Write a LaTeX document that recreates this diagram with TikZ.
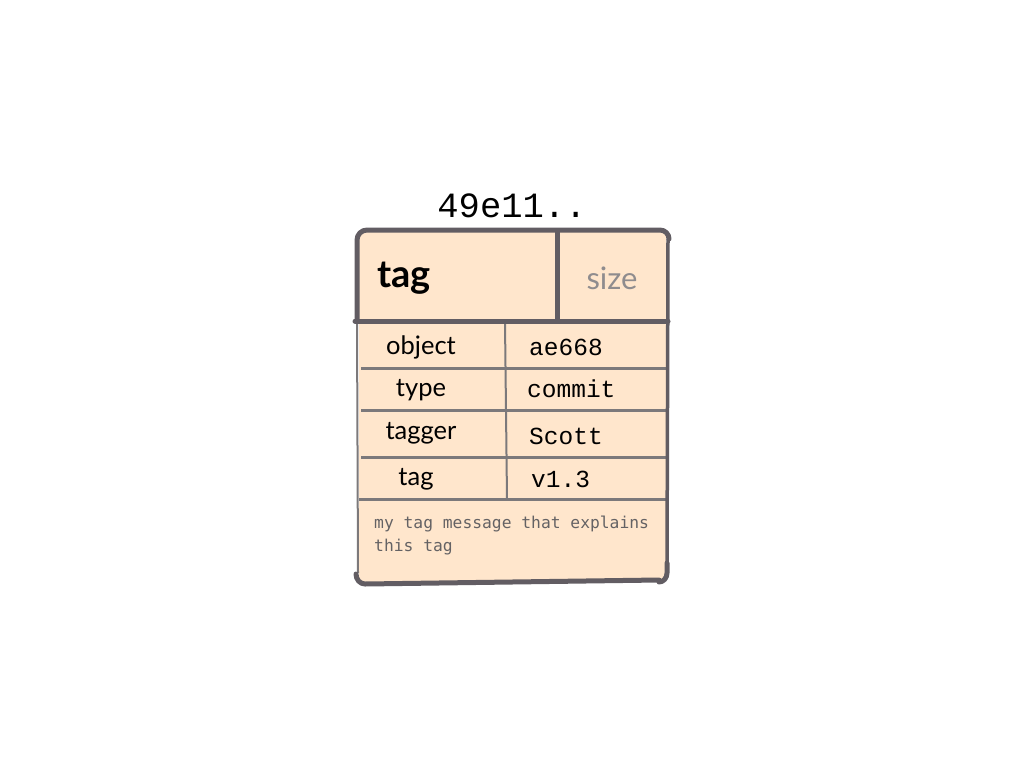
\documentclass[tikz,border=0pt]{standalone}
\usepackage{fontspec}
\setmainfont{Lato}
\setmonofont{Liberation Mono}
\newfontfamily\notefont{DejaVu Sans Mono}
\usetikzlibrary{calc}
\definecolor{tagfill}{HTML}{FFE6CC}
\definecolor{tagedge}{HTML}{625D63}
\definecolor{rowline}{HTML}{7C797B}
\definecolor{sizegray}{HTML}{8F8C8E}
\definecolor{notegray}{HTML}{646264}
\def\drawedge{\draw[color=tagedge, line width=5pt, line cap=round, line join=round]}
\def\drawrow{\draw[color=rowline, line width=3pt]}
\def\keynode{\node[font=\fontsize{25.5}{30}\selectfont]}
\def\valnode{\node[font=\ttfamily\fontsize{24.5}{28}\selectfont, anchor=west]}

\begin{document}
\begin{tikzpicture}[x=1pt,y=-1pt,inner sep=0pt]
\useasboundingbox (0,0) rectangle (1024,768);
\coordinate (nw) at (357,230); % top left of the tag box
\coordinate (ne) at (668,230);
\coordinate (se) at (668,583);
\coordinate (sw) at (357,583);

% ---------- paper of the box
\fill[tagfill] ($ (nw) + (2,2) $) -- ($ (ne) + (-2,2) $) -- ($ (se) + (-2,-4) $) -- ($ (sw) + (2,-1) $) -- cycle;

% ---------- header: kind and size
\coordinate (hl) at ($ (nw) + (-2,91) $);
\coordinate (hr) at ($ (ne) + (0,91) $);
\coordinate (split) at (557,232);
\node[font=\bfseries\fontsize{38}{42}\selectfont, anchor=west] (kind) at (377,278) {tag};
\node[font=\fontsize{31}{34}\selectfont, text=sizegray] (size) at (612,278) {size};
\node[font=\ttfamily\fontsize{35.5}{40}\selectfont] (hash) at (512,206) {49e11..};

% ---------- the four fields
\coordinate (col) at (505,323);
\coordinate (r1) at (361,368);
\coordinate (r2) at (361,410);
\coordinate (r3) at (361,457);
\coordinate (r4) at (359,499);
\drawrow (r1) -- ($ (r1) + (305,0) $);
\drawrow (r2) -- ($ (r2) + (305,0) $);
\drawrow (r3) -- ($ (r3) + (305,0) $);
\drawrow (r4) -- ($ (r4) + (307,0) $);
\draw[color=rowline, line width=2pt] (col) -- ($ (col) + (2,176) $);

\keynode (objkey) at (421,347) {object};
\keynode (typekey) at (421,390) {type};
\keynode (taggerkey) at (421,433) {tagger};
\keynode (tagkey) at (416,479) {tag};
\valnode (objval) at (529,347) {ae668};
\valnode (typeval) at (527,389) {commit};
\valnode (taggerval) at (529,436) {Scott};
\valnode (tagval) at (531,479) {v1.3};

% ---------- message
\node[font=\notefont\fontsize{16.3}{23}\selectfont, text=notegray, anchor=north west, align=left] (msg) at (374,516) {my tag message that explains\\this tag};

% ---------- outline, drawn last
\draw[color=rowline, line width=2pt] ($ (hl) + (2,0) $) -- ($ (sw) + (1,-10) $);
\drawedge ($ (nw) + (0,90) $) -- ($ (nw) + (0,10) $) to[out=90,in=180] ($ (nw) + (10,0) $) -- ($ (ne) + (-8,0) $) to[out=0,in=90] ($ (ne) + (1,9) $);
\draw[color=tagedge, line width=3.5pt] ($ (ne) + (0,9) $) -- ($ (se) + (-1,-14) $);
\drawedge ($ (sw) + (-1,-9) $) to[out=270,in=180] ($ (sw) + (8,1) $) -- ($ (se) + (-9,-3) $);
\drawedge ($ (se) + (-9,-1) $) to[out=0,in=270] ($ (se) + (-1,-10) $) -- ($ (se) + (-1,-20) $);
\drawedge (hl) -- (hr);
\drawedge (split) -- ($ (split) + (0,89) $);
\end{tikzpicture}
\end{document}
